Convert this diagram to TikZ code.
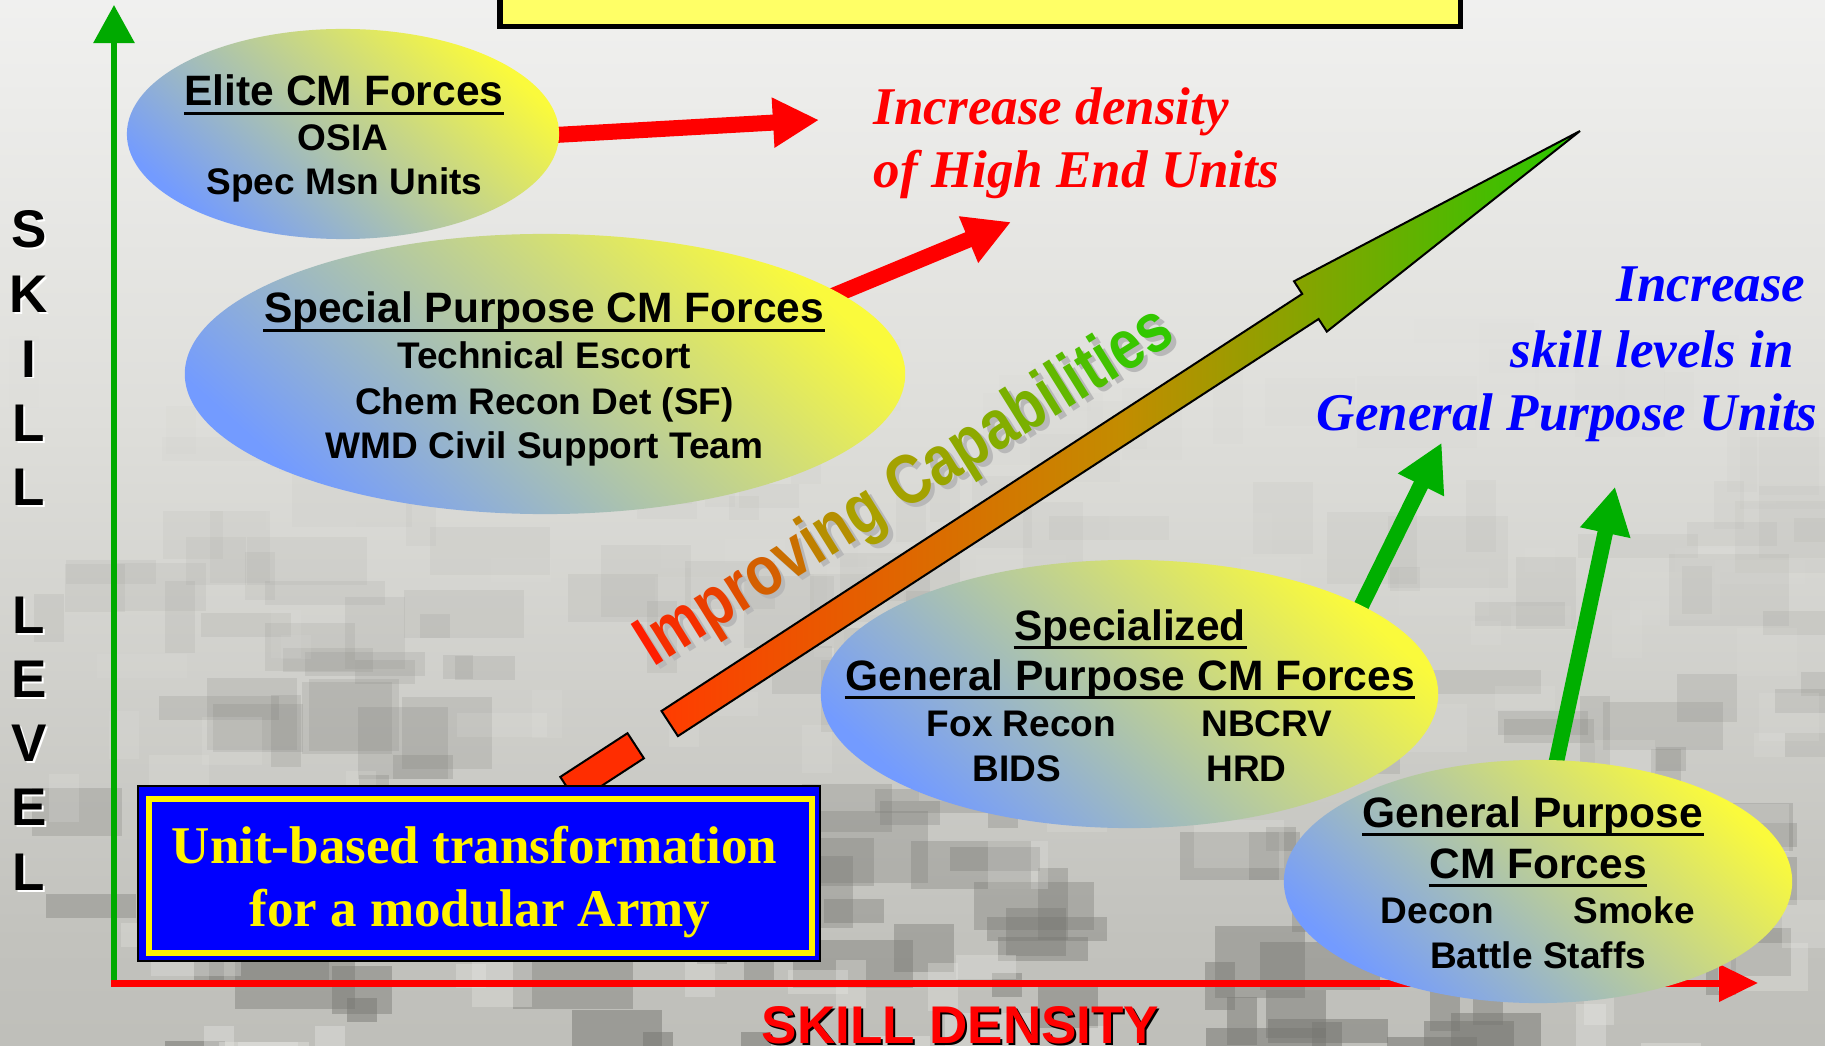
\documentclass[tikz,border=0pt]{standalone}
\usepackage{fontspec}
\usepackage{graphicx}
\setmainfont{Liberation Serif}
\newfontfamily\arialf{Liberation Sans}
\usetikzlibrary{shapes.geometric, arrows.meta}

\definecolor{axgreen}{RGB}{0,170,0}
\definecolor{argreen}{RGB}{0,175,0}
\definecolor{eblue}{RGB}{115,155,255}
\definecolor{eyellow}{RGB}{250,250,60}
\definecolor{boxyellow}{RGB}{255,255,102}
\definecolor{impA}{RGB}{255,30,0}
\definecolor{impB}{RGB}{170,160,0}
\definecolor{impC}{RGB}{50,200,0}
\definecolor{bigA}{RGB}{255,60,0}
\definecolor{bigB}{RGB}{195,140,0}
\definecolor{bigC}{RGB}{40,200,0}
\definecolor{segred}{RGB}{255,45,0}
\definecolor{camodark}{RGB}{120,120,115}
\definecolor{camolight}{RGB}{232,232,228}
\definecolor{bg0}{RGB}{175,175,169}
\definecolor{bg1}{RGB}{194,194,189}
\definecolor{bg2}{RGB}{222,222,218}
\definecolor{bg3}{RGB}{243,243,242}
\pgfdeclareverticalshading{bgshade}{100bp}{color(0bp)=(bg0); color(30bp)=(bg1); color(55bp)=(bg2); color(78bp)=(bg3); color(100bp)=(white)}

\tikzset{
  ttl/.style={font=\arialf\bfseries\fontsize{12.09}{14}\selectfont, anchor=base, inner sep=0pt},
  sub/.style={font=\arialf\bfseries\fontsize{10.53}{12}\selectfont, anchor=base, inner sep=0pt},
  ital/.style={font=\bfseries\itshape\fontsize{15.08}{17}\selectfont, anchor=base west, inner sep=0pt},
  boxtext/.style={font=\bfseries\fontsize{15.08}{17}\selectfont, anchor=base, inner sep=0pt, text=yellow},
  lvl/.style={font=\arialf\bfseries\fontsize{15.08}{17}\selectfont, anchor=base, inner sep=0pt},
  dens/.style={font=\arialf\bfseries\fontsize{15.08}{17}\selectfont, anchor=base, inner sep=0pt},
  impt/.style={font=\arialf\bfseries\fontsize{20}{22}\selectfont, anchor=base, inner sep=0pt, rotate=32},
  ulin/.style={line width=0.033cm, black},
  ell/.style={ellipse, inner sep=0pt, top color=eyellow, bottom color=eblue, shading angle=-42},
  redarrow/.style={red, line width=0.16cm, -{Triangle[length=0.46cm,width=0.47cm]}},
  grarrow/.style={argreen, line width=0.155cm, -{Triangle[length=0.47cm,width=0.48cm]}},
}

\begin{document}
\begin{tikzpicture}[x=0.01cm, y=-0.01cm]
\useasboundingbox (0,0) rectangle (1825,1046);
% background
\shade[shading=bgshade] (0,0) rectangle (1825,1046);
\pgfmathsetseed{2024}
\foreach \k in {1,...,240}{
  \pgfmathsetmacro\bx{rnd*1825}
  \pgfmathsetmacro\by{260+rnd*800}
  \pgfmathsetmacro\bw{30*int(1+rnd*4)}
  \pgfmathsetmacro\bh{24*int(1+rnd*3)}
  \pgfmathsetmacro\bo{0.55*((\by-260)/786)^2}
  \fill[camodark, opacity=\bo] (\bx,\by) rectangle ++(\bw,\bh);
}
\foreach \k in {1,...,110}{
  \pgfmathsetmacro\bx{rnd*1825}
  \pgfmathsetmacro\by{300+rnd*760}
  \pgfmathsetmacro\bw{30*int(1+rnd*3)}
  \pgfmathsetmacro\bh{24*int(1+rnd*2)}
  \pgfmathsetmacro\bo{0.4*((\by-300)/746)^1.6}
  \fill[camolight, opacity=\bo] (\bx,\by) rectangle ++(\bw,\bh);
}

% top yellow box (cut off)
\fill[black] (497,-20) rectangle (1463,29.5);
\fill[boxyellow] (502.5,-20) rectangle (1457.5,24);

% axes
\coordinate (ybot) at (114,983);
\coordinate (ytop) at (114,5);
\draw[axgreen, line width=0.06cm, -{Triangle[length=0.38cm,width=0.40cm]}] (ybot) -- (ytop);
\coordinate (xl) at (111,983);
\coordinate (xr) at (1758,983);
\draw[red, line width=0.07cm, -{Triangle[length=0.39cm,width=0.36cm]}] (xl) -- (xr);

% red and green arrows
\coordinate (r1s) at (520,137);
\coordinate (r1t) at (819,120);
\draw[redarrow] (r1s) -- (r1t);
\coordinate (r2s) at (800,309.5);
\coordinate (r2t) at (1011,222);
\draw[redarrow] (r2s) -- (r2t);
\coordinate (gAs) at (1340,649);
\coordinate (gAt) at (1441.7,442.7);
\draw[grarrow] (gAs) -- (gAt);
\coordinate (gBs) at (1545,815);
\coordinate (gBt) at (1615,486.7);
\draw[grarrow] (gBs) -- (gBt);

% big improving arrow
\draw[black, line width=0.02cm, fill=segred] (560.3,776.9) -- (627.5,733.2) -- (643.9,758.3) -- (576.7,802.1) -- cycle;
\draw[black, line width=0.02cm, left color=bigA, right color=bigC, middle color=bigB]
  (661.5,711.0) -- (1302.2,293.9) -- (1294.0,281.3) -- (1580,131) -- (1326.8,331.6) -- (1318.6,319.0) -- (677.9,736.1) -- cycle;

% blue box
\draw[fill=blue, line width=0.025cm] (138,786) rectangle (820,961);
\draw[yellow, line width=0.06cm] (149,799) rectangle (811.5,953);
\node[boxtext] (bt1) at (474.5,863) {Unit-based transformation};
\node[boxtext] (bt2) at (480,926) {for a modular Army};

% ellipses
\node[ell, minimum width=4.32cm, minimum height=2.10cm] (e1) at (343,134) {};
\node[ell, minimum width=7.20cm, minimum height=2.80cm] (e2) at (545,374) {};
\node[ell, minimum width=6.17cm, minimum height=2.68cm] (e3) at (1129.5,694) {};
\node[ell, minimum width=5.08cm, minimum height=2.43cm] (e4) at (1538,881.5) {};

% ellipse 1 text
\node[ttl] (t1) at (344,106) {Elite CM Forces};
\draw[ulin] ([yshift=-0.075cm]t1.base west) -- ([yshift=-0.075cm]t1.base east);
\node[sub] (t1a) at (343,151) {OSIA};
\node[sub] (t1b) at (344.5,195) {Spec Msn Units};

% ellipse 2 text
\node[ttl] (t2) at (544,323) {Special Purpose CM Forces};
\draw[ulin] ([yshift=-0.078cm]t2.base west) -- ([yshift=-0.078cm]t2.base east);
\node[sub] (t2a) at (544,369) {Technical Escort};
\node[sub] (t2b) at (544.5,414) {Chem Recon Det (SF)};
\node[sub] (t2c) at (544.5,458) {WMD Civil Support Team};

% ellipse 3 text
\node[ttl] (t3) at (1130,640) {Specialized};
\draw[ulin] ([yshift=-0.078cm]t3.base west) -- ([yshift=-0.078cm]t3.base east);
\node[ttl] (t3b) at (1130,690) {General Purpose CM Forces};
\draw[ulin] ([yshift=-0.072cm]t3b.base west) -- ([yshift=-0.072cm]t3b.base east);
\node[sub] (t3c) at (1021.5,736) {Fox Recon};
\node[sub] (t3d) at (1267,736) {NBCRV};
\node[sub] (t3e) at (1016.5,781) {BIDS};
\node[sub] (t3f) at (1246.5,781) {HRD};

% ellipse 4 text
\node[ttl] (t4) at (1533,827) {General Purpose};
\draw[ulin] ([yshift=-0.074cm]t4.base west) -- ([yshift=-0.074cm]t4.base east);
\node[ttl] (t4b) at (1538,878) {CM Forces};
\draw[ulin] ([yshift=-0.078cm]t4b.base west) -- ([yshift=-0.078cm]t4b.base east);
\node[sub] (t4c) at (1437.5,923) {Decon};
\node[sub] (t4d) at (1634,923) {Smoke};
\node[sub] (t4e) at (1538,968) {Battle Staffs};

% italic captions
\node[ital, text=red] (c1) at (873,125) {Increase density};
\node[ital, text=red] (c2) at (873,188) {of High End Units};
\node[ital, text=blue] (c3) at (1616,302) {Increase};
\node[ital, text=blue] (c4) at (1510,367) {skill levels in};
\node[ital, text=blue] (c5) at (1316,430) {General Purpose Units};

% skill level letters
\foreach \L/\yy [count=\i] in {S/248,K/313,I/377,L/441,L/505,L/633,E/697,V/761,E/825,L/890}{
  \node[lvl, text=white] (lvs\i) at (31,\yy+2) {\L};
  \node[lvl, text=black] (lv\i) at (29,\yy) {\L};
}

% skill density
\node[dens, text=black] (sdsh) at (962.5,1045) {SKILL DENSITY};
\node[dens, text=red] (sd) at (960.5,1043) {SKILL DENSITY};

% improving capabilities
\node[impt, text=black!28] (impsh) at (920,508) {\scalebox{0.82}[1]{Improving Capabilities}};
\node[impt] (imp) at (915.5,504) {\scalebox{0.82}[1]{\textcolor{impA}{I}\textcolor{impB!12!impA}{m}\textcolor{impB!25!impA}{p}\textcolor{impB!37!impA}{r}\textcolor{impB!50!impA}{o}\textcolor{impB!62!impA}{v}\textcolor{impB!75!impA}{i}\textcolor{impB!87!impA}{n}\textcolor{impB}{g} \textcolor{impC!5!impB}{C}\textcolor{impC!14!impB}{a}\textcolor{impC!23!impB}{p}\textcolor{impC!32!impB}{a}\textcolor{impC!41!impB}{b}\textcolor{impC!50!impB}{i}\textcolor{impC!59!impB}{l}\textcolor{impC!68!impB}{i}\textcolor{impC!77!impB}{t}\textcolor{impC!86!impB}{i}\textcolor{impC!94!impB}{e}\textcolor{impC}{s}}};
\end{tikzpicture}
\end{document}
